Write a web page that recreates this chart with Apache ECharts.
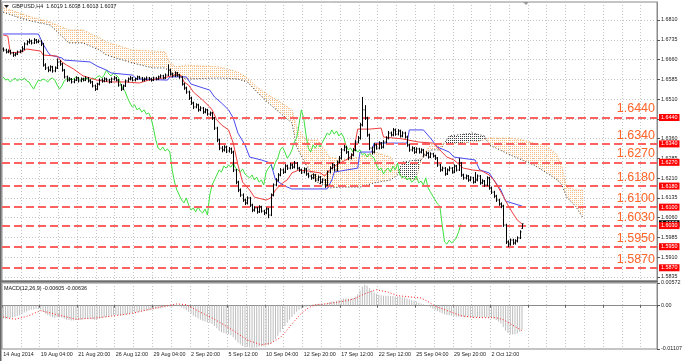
<!DOCTYPE html>
<html><head><meta charset="utf-8">
<script src="https://cdn.jsdelivr.net/npm/echarts@6/dist/echarts.min.js"></script>
<style>html,body{margin:0;padding:0;background:#fff;}#c{width:685px;height:361px;}</style>
</head><body><div id="c"></div>
<script>
// ---------- DATA ----------
const symbolTitle = 'GBPUSD,H4  1.6019 1.6038 1.6018 1.6037';
const macdTitle = 'MACD(12,26,9) -0.00605 -0.00636';
const barCount = 279;
const timeLabels = ['14 Aug 2014','19 Aug 04:00','21 Aug 20:00','26 Aug 12:00','29 Aug 04:00','2 Sep 20:00','5 Sep 12:00','10 Sep 04:00','12 Sep 20:00','17 Sep 12:00','22 Sep 12:00','25 Sep 04:00','29 Sep 20:00','2 Oct 12:00'];
const priceTicks = [1.5835,1.5910,1.5985,1.6060,1.6135,1.6210,1.6285,1.6360,1.6435,1.6510,1.6585,1.6660,1.6735,1.6810];
const priceLabels = [1.5835,1.5910,1.5985,1.6060,1.6135,1.6210,1.6285,1.6360,1.6510,1.6585,1.6660,1.6735,1.6810];
const levels = [1.6440,1.6340,1.6270,1.6180,1.6100,1.6030,1.5950,1.5870];
const bidPrice = 1.6037;
const macdTicks = [-0.01107, 0, 0.00572];
// OHLC bars: [open, close, low, high]
const bars = [
[1.6700,1.6696,1.6690,1.6706],[1.6696,1.6689,1.6683,1.6701],[1.6689,1.6692,1.6684,1.6698],[1.6692,1.6685,1.6679,1.6697],
[1.6685,1.6677,1.6670,1.6689],[1.6677,1.6681,1.6672,1.6686],[1.6681,1.6689,1.6677,1.6694],[1.6689,1.6692,1.6684,1.6698],
[1.6692,1.6700,1.6688,1.6711],[1.6700,1.6719,1.6696,1.6725],[1.6719,1.6727,1.6714,1.6733],[1.6727,1.6730,1.6720,1.6739],
[1.6730,1.6723,1.6717,1.6735],[1.6723,1.6734,1.6719,1.6741],[1.6734,1.6727,1.6721,1.6738],[1.6727,1.6730,1.6722,1.6736],
[1.6730,1.6719,1.6711,1.6734],[1.6719,1.6639,1.6633,1.6723],[1.6639,1.6628,1.6620,1.6646],[1.6628,1.6620,1.6612,1.6634],
[1.6620,1.6632,1.6615,1.6638],[1.6632,1.6617,1.6610,1.6636],[1.6617,1.6628,1.6612,1.6634],[1.6628,1.6651,1.6624,1.6664],
[1.6651,1.6643,1.6636,1.6658],[1.6643,1.6620,1.6614,1.6647],[1.6620,1.6594,1.6588,1.6624],[1.6594,1.6582,1.6575,1.6599],
[1.6582,1.6586,1.6577,1.6593],[1.6586,1.6575,1.6569,1.6590],[1.6575,1.6582,1.6570,1.6588],[1.6582,1.6590,1.6578,1.6596],
[1.6590,1.6579,1.6573,1.6594],[1.6579,1.6586,1.6574,1.6592],[1.6586,1.6582,1.6577,1.6591],[1.6582,1.6590,1.6578,1.6597],
[1.6590,1.6579,1.6573,1.6594],[1.6579,1.6575,1.6568,1.6585],[1.6575,1.6560,1.6554,1.6579],[1.6560,1.6548,1.6541,1.6565],
[1.6548,1.6567,1.6544,1.6572],[1.6567,1.6582,1.6562,1.6588],[1.6582,1.6579,1.6572,1.6589],[1.6579,1.6586,1.6574,1.6593],
[1.6586,1.6582,1.6576,1.6591],[1.6582,1.6575,1.6569,1.6587],[1.6575,1.6586,1.6571,1.6592],[1.6586,1.6590,1.6581,1.6597],
[1.6590,1.6582,1.6577,1.6594],[1.6582,1.6563,1.6557,1.6586],[1.6563,1.6548,1.6541,1.6567],[1.6548,1.6560,1.6544,1.6565],
[1.6560,1.6579,1.6556,1.6584],[1.6579,1.6586,1.6573,1.6592],[1.6586,1.6590,1.6581,1.6597],[1.6590,1.6582,1.6577,1.6594],
[1.6582,1.6586,1.6577,1.6591],[1.6586,1.6594,1.6582,1.6599],[1.6594,1.6590,1.6585,1.6598],[1.6590,1.6582,1.6576,1.6594],
[1.6582,1.6586,1.6577,1.6592],[1.6586,1.6590,1.6581,1.6596],[1.6590,1.6586,1.6580,1.6594],[1.6586,1.6582,1.6576,1.6591],
[1.6582,1.6590,1.6578,1.6595],[1.6590,1.6586,1.6581,1.6594],[1.6586,1.6594,1.6582,1.6599],[1.6594,1.6598,1.6589,1.6604],
[1.6598,1.6590,1.6585,1.6602],[1.6590,1.6601,1.6586,1.6607],[1.6601,1.6620,1.6597,1.6642],[1.6620,1.6605,1.6599,1.6625],
[1.6605,1.6598,1.6592,1.6610],[1.6598,1.6609,1.6594,1.6615],[1.6609,1.6601,1.6595,1.6613],[1.6601,1.6594,1.6587,1.6606],
[1.6594,1.6567,1.6561,1.6598],[1.6567,1.6552,1.6545,1.6572],[1.6552,1.6537,1.6530,1.6557],[1.6537,1.6514,1.6507,1.6542],
[1.6514,1.6495,1.6488,1.6519],[1.6495,1.6480,1.6472,1.6500],[1.6480,1.6488,1.6475,1.6494],[1.6488,1.6469,1.6462,1.6492],
[1.6469,1.6476,1.6464,1.6483],[1.6476,1.6461,1.6454,1.6480],[1.6461,1.6469,1.6456,1.6475],[1.6469,1.6453,1.6447,1.6473],
[1.6453,1.6457,1.6446,1.6463],[1.6457,1.6438,1.6431,1.6461],[1.6438,1.6400,1.6393,1.6442],[1.6400,1.6355,1.6347,1.6405],
[1.6355,1.6324,1.6316,1.6360],[1.6324,1.6317,1.6308,1.6332],[1.6317,1.6328,1.6311,1.6335],[1.6328,1.6313,1.6305,1.6333],
[1.6313,1.6321,1.6307,1.6328],[1.6321,1.6309,1.6302,1.6326],[1.6309,1.6241,1.6233,1.6314],[1.6241,1.6195,1.6187,1.6245],
[1.6195,1.6165,1.6157,1.6200],[1.6165,1.6146,1.6139,1.6171],[1.6146,1.6127,1.6120,1.6152],[1.6127,1.6116,1.6108,1.6132],
[1.6116,1.6135,1.6110,1.6141],[1.6135,1.6108,1.6101,1.6139],[1.6108,1.6089,1.6081,1.6113],[1.6089,1.6097,1.6083,1.6103],
[1.6097,1.6082,1.6075,1.6101],[1.6082,1.6101,1.6078,1.6107],[1.6101,1.6085,1.6079,1.6105],[1.6085,1.6078,1.6070,1.6090],
[1.6078,1.6093,1.6073,1.6099],[1.6093,1.6070,1.6058,1.6097],[1.6070,1.6146,1.6066,1.6152],[1.6146,1.6184,1.6141,1.6190],
[1.6184,1.6203,1.6179,1.6210],[1.6203,1.6222,1.6197,1.6229],[1.6222,1.6241,1.6217,1.6248],[1.6241,1.6233,1.6226,1.6247],
[1.6233,1.6256,1.6229,1.6263],[1.6256,1.6248,1.6241,1.6261],[1.6248,1.6260,1.6243,1.6268],[1.6260,1.6252,1.6245,1.6265],
[1.6252,1.6267,1.6247,1.6275],[1.6267,1.6248,1.6242,1.6271],[1.6248,1.6241,1.6234,1.6253],[1.6241,1.6233,1.6226,1.6246],
[1.6233,1.6245,1.6228,1.6251],[1.6245,1.6226,1.6219,1.6249],[1.6226,1.6218,1.6211,1.6231],[1.6218,1.6211,1.6204,1.6223],
[1.6211,1.6222,1.6206,1.6228],[1.6222,1.6203,1.6196,1.6226],[1.6203,1.6214,1.6198,1.6220],[1.6214,1.6195,1.6188,1.6218],
[1.6195,1.6203,1.6190,1.6209],[1.6203,1.6184,1.6173,1.6207],[1.6184,1.6233,1.6180,1.6239],[1.6233,1.6248,1.6228,1.6255],
[1.6248,1.6260,1.6243,1.6267],[1.6260,1.6241,1.6235,1.6264],[1.6241,1.6271,1.6237,1.6277],[1.6271,1.6286,1.6266,1.6294],
[1.6286,1.6317,1.6281,1.6324],[1.6317,1.6328,1.6312,1.6336],[1.6328,1.6309,1.6302,1.6332],[1.6309,1.6286,1.6279,1.6313],
[1.6286,1.6298,1.6281,1.6304],[1.6298,1.6317,1.6293,1.6324],[1.6317,1.6347,1.6312,1.6354],[1.6347,1.6362,1.6342,1.6370],
[1.6362,1.6412,1.6356,1.6420],[1.6412,1.6469,1.6406,1.6518],[1.6469,1.6438,1.6431,1.6487],[1.6438,1.6374,1.6367,1.6443],
[1.6374,1.6324,1.6316,1.6379],[1.6324,1.6309,1.6300,1.6330],[1.6309,1.6336,1.6304,1.6343],[1.6336,1.6324,1.6318,1.6341],
[1.6324,1.6343,1.6319,1.6350],[1.6343,1.6328,1.6321,1.6347],[1.6328,1.6347,1.6323,1.6354],[1.6347,1.6362,1.6342,1.6369],
[1.6362,1.6381,1.6357,1.6389],[1.6381,1.6374,1.6368,1.6387],[1.6374,1.6393,1.6369,1.6400],[1.6393,1.6377,1.6371,1.6398],
[1.6377,1.6389,1.6372,1.6396],[1.6389,1.6370,1.6364,1.6394],[1.6370,1.6381,1.6365,1.6388],[1.6381,1.6366,1.6360,1.6386],
[1.6366,1.6336,1.6329,1.6371],[1.6336,1.6317,1.6310,1.6341],[1.6317,1.6324,1.6311,1.6331],[1.6324,1.6309,1.6302,1.6328],
[1.6309,1.6321,1.6304,1.6327],[1.6321,1.6309,1.6303,1.6325],[1.6309,1.6317,1.6304,1.6323],[1.6317,1.6298,1.6291,1.6321],
[1.6298,1.6305,1.6293,1.6312],[1.6305,1.6290,1.6284,1.6309],[1.6290,1.6302,1.6286,1.6308],[1.6302,1.6294,1.6288,1.6306],
[1.6294,1.6286,1.6279,1.6299],[1.6286,1.6260,1.6253,1.6290],[1.6260,1.6241,1.6234,1.6264],[1.6241,1.6248,1.6236,1.6254],
[1.6248,1.6226,1.6219,1.6252],[1.6226,1.6241,1.6222,1.6247],[1.6241,1.6248,1.6236,1.6255],[1.6248,1.6233,1.6227,1.6252],
[1.6233,1.6256,1.6229,1.6262],[1.6256,1.6241,1.6235,1.6260],[1.6241,1.6267,1.6237,1.6286],[1.6267,1.6222,1.6215,1.6271],
[1.6222,1.6211,1.6204,1.6227],[1.6211,1.6218,1.6205,1.6224],[1.6218,1.6203,1.6196,1.6222],[1.6203,1.6211,1.6198,1.6217],
[1.6211,1.6195,1.6189,1.6215],[1.6195,1.6203,1.6191,1.6233],[1.6203,1.6218,1.6198,1.6224],[1.6218,1.6192,1.6185,1.6222],
[1.6192,1.6199,1.6187,1.6206],[1.6199,1.6184,1.6177,1.6203],[1.6184,1.6211,1.6179,1.6217],[1.6211,1.6173,1.6166,1.6215],
[1.6173,1.6157,1.6150,1.6178],[1.6157,1.6142,1.6135,1.6162],[1.6142,1.6127,1.6120,1.6147],[1.6127,1.6112,1.6105,1.6132],
[1.6112,1.6104,1.6096,1.6118],[1.6104,1.6032,1.6025,1.6109],[1.6032,1.5968,1.5960,1.6037],[1.5968,1.5960,1.5949,1.5974],
[1.5960,1.5975,1.5954,1.5981],[1.5975,1.5964,1.5957,1.5980],[1.5964,1.5972,1.5958,1.5978],[1.5972,1.5983,1.5966,1.5989],
[1.5983,1.6006,1.5979,1.6012],[1.6019,1.6037,1.6018,1.6038]
];
const chikouShift = 26;
const tenkan = [[0,1.6753],[2,1.6749],[3,1.6685],[8,1.6689],[10,1.6700],[16,1.6692],[17,1.6677],[23,1.6673],[25,1.6651],[27,1.6639],[30,1.6624],[34,1.6598],[37,1.6590],[40,1.6582],[45,1.6575],[52,1.6575],[58,1.6571],[62,1.6582],[68,1.6590],[72,1.6598],[74,1.6605],[76,1.6598],[77,1.6575],[79,1.6563],[81,1.6537],[85,1.6506],[88,1.6480],[89,1.6469],[91,1.6431],[93,1.6412],[96,1.6393],[98,1.6343],[100,1.6260],[102,1.6195],[105,1.6165],[107,1.6138],[112,1.6127],[114,1.6135],[116,1.6165],[119,1.6192],[121,1.6203],[123,1.6230],[126,1.6241],[130,1.6237],[135,1.6230],[137,1.6218],[139,1.6241],[142,1.6260],[146,1.6279],[149,1.6298],[151,1.6396],[156,1.6396],[161,1.6400],[162,1.6366],[170,1.6359],[177,1.6347],[183,1.6343],[186,1.6317],[189,1.6290],[192,1.6279],[196,1.6248],[200,1.6241],[204,1.6237],[207,1.6222],[209,1.6203],[211,1.6173],[213,1.6142],[215,1.6108],[217,1.6078],[219,1.6051],[221,1.6036]];
const kijun = [[0,1.6757],[15,1.6757],[17,1.6719],[19,1.6689],[20,1.6677],[25,1.6666],[26,1.6658],[37,1.6651],[40,1.6635],[44,1.6620],[46,1.6609],[55,1.6601],[57,1.6586],[70,1.6582],[71,1.6594],[78,1.6594],[80,1.6567],[88,1.6544],[90,1.6518],[93,1.6495],[96,1.6469],[98,1.6438],[100,1.6381],[103,1.6336],[105,1.6290],[110,1.6279],[114,1.6267],[116,1.6203],[120,1.6180],[123,1.6169],[138,1.6169],[140,1.6203],[141,1.6233],[151,1.6248],[152,1.6309],[157,1.6309],[158,1.6343],[172,1.6343],[173,1.6393],[179,1.6393],[182,1.6362],[185,1.6328],[190,1.6309],[192,1.6290],[201,1.6279],[203,1.6241],[207,1.6230],[209,1.6203],[212,1.6165],[214,1.6123],[221,1.6104]];
const cloudIdx = [0,7,12,20,28,34,41,44,55,64,69,71,74,78,92,100,104,108,113,118,123,125,129,134,139,145,152,158,165,168,170,176,178,182,186,190,200,205,207,210,216,221,226,231,236,238,240,244,247];
const spanA = [1.6840,1.6818,1.6806,1.6791,1.6723,1.6723,1.6696,1.6677,1.6647,1.6628,1.6628,1.6613,1.6598,1.6586,1.6590,1.6586,1.6575,1.6537,1.6495,1.6457,1.6419,1.6328,1.6260,1.6192,1.6173,1.6176,1.6176,1.6192,1.6203,1.6222,1.6271,1.6279,1.6279,1.6317,1.6317,1.6370,1.6381,1.6370,1.6336,1.6324,1.6298,1.6279,1.6260,1.6233,1.6203,1.6184,1.6138,1.6101,1.6059];
const spanB = [1.6856,1.6837,1.6821,1.6802,1.6772,1.6772,1.6742,1.6727,1.6696,1.6692,1.6689,1.6647,1.6632,1.6639,1.6632,1.6613,1.6590,1.6556,1.6525,1.6499,1.6469,1.6404,1.6355,1.6355,1.6290,1.6279,1.6290,1.6309,1.6290,1.6241,1.6211,1.6203,1.6286,1.6336,1.6343,1.6340,1.6347,1.6355,1.6362,1.6362,1.6362,1.6355,1.6343,1.6336,1.6298,1.6252,1.6176,1.6165,1.6165];
const macd = [
-0.0033,-0.0034,-0.0033,-0.0031,-0.0030,-0.0029,-0.0027,-0.0025,-0.0022,
-0.0018,-0.0015,-0.0013,-0.0011,-0.0010,-0.0009,-0.0009,-0.0010,
-0.0016,-0.0021,-0.0025,-0.0028,-0.0030,-0.0031,-0.0030,-0.0030,-0.0031,
-0.0034,-0.0036,-0.0037,-0.0038,-0.0038,-0.0037,-0.0037,
-0.0036,-0.0035,-0.0034,-0.0034,-0.0034,-0.0035,-0.0036,-0.0035,
-0.0033,-0.0032,-0.0030,-0.0029,-0.0028,-0.0026,-0.0025,-0.0024,
-0.0025,-0.0026,-0.0025,
-0.0023,-0.0022,-0.0020,-0.0019,-0.0018,-0.0017,-0.0016,-0.0015,-0.0014,-0.0013,-0.0012,-0.0011,-0.0010,-0.0009,
-0.0008,-0.0007,-0.0006,-0.0005,-0.0003,-0.0003,-0.0003,-0.0002,-0.0002,-0.0002,
-0.0005,-0.0008,-0.0012,-0.0016,-0.0021,-0.0026,-0.0029,-0.0033,
-0.0036,-0.0039,-0.0041,-0.0043,-0.0044,-0.0047,
-0.0052,-0.0058,-0.0064,-0.0068,-0.0070,-0.0072,-0.0073,-0.0075,
-0.0081,-0.0088,-0.0094,-0.0099,-0.0103,-0.0106,-0.0105,
-0.0106,-0.0108,-0.0107,-0.0107,-0.0105,-0.0104,-0.0103,-0.0101,-0.0101,
-0.0098,-0.0092,-0.0085,-0.0077,-0.0068,-0.0060,-0.0052,-0.0044,
-0.0036,-0.0029,-0.0022,-0.0016,-0.0011,-0.0008,-0.0005,-0.0003,-0.0001,
0.0002,0.0003,0.0003,0.0004,0.0004,0.0004,0.0003,
0.0006,0.0008,0.0010,0.0010,0.0012,0.0014,
0.0015,0.0018,0.0018,0.0017,0.0017,0.0019,
0.0022,0.0028,0.0038,0.0048,0.0053,
0.0050,0.0044,0.0038,0.0033,0.0030,
0.0027,0.0026,0.0025,0.0025,0.0025,0.0024,0.0024,0.0023,0.0023,0.0022,0.0021,0.0020,0.0018,0.0016,0.0014,0.0012,0.0010,
0.0007,0.0005,0.0003,0.0001,-0.0002,-0.0005,-0.0008,
-0.0011,-0.0014,-0.0017,-0.0020,-0.0022,-0.0024,-0.0025,-0.0026,
-0.0027,-0.0028,-0.0028,-0.0029,-0.0029,-0.0030,-0.0030,-0.0030,-0.0031,-0.0030,-0.0030,-0.0031,-0.0031,-0.0030,-0.0030,-0.0031,-0.0032,-0.0034,-0.0037,-0.0041,-0.0046,
-0.0055,-0.0064,-0.0070,-0.0073,-0.0074,-0.0073,-0.0071,-0.0067,-0.0061
];
const signal = [[0,-0.0029],[5,-0.0035],[10,-0.0028],[16,-0.0013],[22,-0.0022],[31,-0.0035],[41,-0.0031],[55,-0.0020],[65,-0.0006],[74,0.0004],[78,0.0002],[84,-0.0017],[90,-0.0035],[97,-0.0060],[104,-0.0088],[110,-0.0100],[114,-0.0096],[118,-0.0082],[121,-0.0062],[124,-0.0040],[127,-0.0020],[130,-0.0006],[133,0.0002],[137,0.0004],[142,0.0008],[146,0.0012],[150,0.0018],[154,0.0030],[159,0.0040],[164,0.0034],[168,0.0025],[173,0.0022],[178,0.0019],[181,0.0010],[184,-0.0002],[190,-0.0015],[195,-0.0026],[200,-0.0030],[205,-0.0031],[210,-0.0031],[213,-0.0036],[217,-0.0050],[221,-0.0064]];

// ---------- CHART ----------
const FONT = "'Liberation Sans', Arial, sans-serif";
const NARROW = "'Liberation Sans Narrow', 'Arial Narrow', 'Liberation Sans', Arial, sans-serif";
const cats = Array.from({length: barCount}, (_, i) => String(i));
const closes = bars.map(b => b[1]);
const chikou = closes.slice(chikouShift).map((v, i) => [i, v]);

function dotPattern(color, w, h) {
  const cv = document.createElement('canvas');
  cv.width = w; cv.height = h;
  const ctx = cv.getContext('2d');
  ctx.fillStyle = color; ctx.fillRect(0, 0, 1, 1);
  return {type: 'pattern', image: cv, repeat: 'repeat'};
}
const orangePat = dotPattern('#f8be84', 2, 2);
const darkPat = dotPattern('#3c3c3c', 2, 2);

const cloudSegs = cloudIdx.slice(0, -1).map((x, j) => [x, spanA[j], spanB[j], cloudIdx[j+1], spanA[j+1], spanB[j+1]]);

function renderCloud(params, api) {
  const x1 = api.value(0), a1 = api.value(1), b1 = api.value(2);
  const x2 = api.value(3), a2 = api.value(4), b2 = api.value(5);
  const P = (x, y) => api.coord([x, y]);
  const d1 = a1 - b1, d2 = a2 - b2;
  const poly = (pts, aTop) => ({type: 'polygon', shape: {points: pts}, style: {fill: aTop ? darkPat : orangePat}});
  const children = [];
  if (d1 * d2 < 0) {
    const t = d1 / (d1 - d2);
    const xc = x1 + t * (x2 - x1), yc = a1 + t * (a2 - a1);
    children.push(poly([P(x1, a1), P(xc, yc), P(x1, b1)], d1 > 0));
    children.push(poly([P(xc, yc), P(x2, a2), P(x2, b2)], d2 > 0));
  } else {
    children.push(poly([P(x1, a1), P(x2, a2), P(x2, b2), P(x1, b1)], (d1 + d2) > 0));
  }
  return {type: 'group', children};
}

function renderBar(params, api) {
  const i = api.value(0);
  const o = api.coord([i, api.value(1)]), c = api.coord([i, api.value(2)]);
  const l = api.coord([i, api.value(3)]), h = api.coord([i, api.value(4)]);
  const cx = Math.round(o[0]) + 0.5;
  const st = {stroke: '#000', lineWidth: 1};
  return {type: 'group', children: [
    {type: 'line', shape: {x1: cx, y1: h[1], x2: cx, y2: l[1]}, style: st},
    {type: 'line', shape: {x1: cx - 1, y1: o[1], x2: cx, y2: o[1]}, style: st},
    {type: 'line', shape: {x1: cx, y1: c[1], x2: cx + 1, y2: c[1]}, style: st}
  ]};
}

const gridLine = {show: true, lineStyle: {color: '#c4c4c4', type: [1, 2], width: 1}};
const chart = echarts.init(document.getElementById('c'), null, {renderer: 'canvas'});
chart.setOption({
  animation: false,
  backgroundColor: '#fff',
  textStyle: {fontFamily: FONT},
  grid: [
    {left: 2, top: 2, width: 655, height: 279, show: true, borderColor: '#8a8a8a', borderWidth: 1},
    {left: 2, top: 283, width: 655, height: 66, show: true, borderColor: '#8a8a8a', borderWidth: 1}
  ],
  xAxis: [
    {type: 'category', gridIndex: 0, data: cats, boundaryGap: true,
     axisLine: {show: false}, axisTick: {show: false}, axisLabel: {show: false},
     splitLine: Object.assign({interval: (i) => i % 8 === 0}, gridLine)},
    {type: 'category', gridIndex: 1, data: cats, boundaryGap: true,
     axisLine: {show: true, lineStyle: {color: '#8a8a8a'}},
     axisTick: {show: true, length: 2, interval: (i) => i % 16 === 0, lineStyle: {color: '#555'}},
     axisLabel: {show: true, interval: (i) => i % 16 === 0 && i / 16 < timeLabels.length,
       formatter: (v, i) => timeLabels[Math.round(Number(v) / 16)] || '',
       align: 'left', fontSize: 5.4, color: '#222', margin: 3, fontFamily: FONT},
     splitLine: Object.assign({interval: (i) => i % 8 === 0}, gridLine)}
  ],
  yAxis: [
    {type: 'value', gridIndex: 0, position: 'right', min: 1.58198, max: 1.68783,
     axisLine: {show: true, lineStyle: {color: '#8a8a8a'}},
     axisTick: {show: true, customValues: priceTicks, length: 3, lineStyle: {color: '#555'}},
     axisLabel: {customValues: priceLabels, formatter: (v) => v.toFixed(4), fontSize: 5.4, color: '#222', margin: 4, fontFamily: FONT},
     splitLine: gridLine},
    {type: 'value', gridIndex: 1, position: 'right', min: -0.01107, max: 0.00572,
     axisLine: {show: true, lineStyle: {color: '#8a8a8a'}},
     axisTick: {show: true, customValues: macdTicks, length: 3, lineStyle: {color: '#555'}},
     axisLabel: {customValues: macdTicks, formatter: (v) => v === 0 ? '0.00' : v.toFixed(5), fontSize: 5.4, color: '#222', margin: 4, fontFamily: FONT},
     splitLine: gridLine}
  ],
  series: [
    {name: 'cloud', type: 'custom', xAxisIndex: 0, yAxisIndex: 0, data: cloudSegs, renderItem: renderCloud, silent: true, z: 1, clip: true},
    {name: 'spanA', type: 'line', xAxisIndex: 0, yAxisIndex: 0, data: cloudIdx.map((x, j) => [x, spanA[j]]), showSymbol: false, silent: true, z: 2,
     lineStyle: {color: '#333', width: 1, type: [1, 2]}},
    {name: 'spanB', type: 'line', xAxisIndex: 0, yAxisIndex: 0, data: cloudIdx.map((x, j) => [x, spanB[j]]), showSymbol: false, silent: true, z: 2,
     lineStyle: {color: '#f0a050', width: 1, type: [1, 2]}},
    {name: 'chikou', type: 'line', xAxisIndex: 0, yAxisIndex: 0, data: chikou, showSymbol: false, silent: true, z: 3,
     lineStyle: {color: '#3ee03e', width: 1},
     markLine: {silent: true, symbol: 'none', animation: false, precision: 4,
       lineStyle: {color: 'rgba(0,0,0,0)', width: 0},
       label: {show: true, position: 'end', distance: 2, formatter: () => bidPrice.toFixed(4), backgroundColor: '#000', color: '#fff', fontSize: 5.4, padding: [1, 2, 1, 2], fontFamily: FONT},
       data: [{yAxis: bidPrice}]}},
    {name: 'kijun', type: 'line', xAxisIndex: 0, yAxisIndex: 0, data: kijun, showSymbol: false, silent: true, z: 4,
     lineStyle: {color: '#4a4af0', width: 1},
     markLine: {silent: true, symbol: 'none', animation: false, precision: 4,
       lineStyle: {color: '#ff6060', width: 1.8, type: [8, 4]},
       label: {show: true, position: 'insideEndTop', distance: 2, formatter: (p) => Number(p.value).toFixed(4), color: '#ff6428', fontSize: 12.5, fontFamily: NARROW},
       data: levels.map(v => ({yAxis: v}))}},
    {name: 'tenkan', type: 'line', xAxisIndex: 0, yAxisIndex: 0, data: tenkan, showSymbol: false, silent: true, z: 5,
     lineStyle: {color: '#f03c3c', width: 1},
     markLine: {silent: true, symbol: 'none', animation: false, precision: 4,
       lineStyle: {color: 'rgba(0,0,0,0)', width: 0},
       label: {show: true, position: 'end', distance: 2, formatter: (p) => Number(p.value).toFixed(4), backgroundColor: '#ff0000', color: '#fff', fontSize: 5.4, padding: [1, 2, 1, 2], fontFamily: FONT},
       data: levels.map(v => ({yAxis: v}))}},
    {name: 'price', type: 'custom', xAxisIndex: 0, yAxisIndex: 0, data: bars.map((b, i) => [i].concat(b)), renderItem: renderBar, silent: true, z: 6, clip: true},
    {name: 'macd', type: 'bar', xAxisIndex: 1, yAxisIndex: 1, data: macd, barWidth: 1, silent: true, itemStyle: {color: '#bdbdbd'}},
    {name: 'signal', type: 'line', xAxisIndex: 1, yAxisIndex: 1, data: signal, showSymbol: false, silent: true,
     lineStyle: {color: '#ff2020', width: 1, type: [1, 2]}}
  ],
  graphic: [
    {type: 'rect', shape: {x: 0, y: 0, width: 1.5, height: 361}, style: {fill: '#666'}, silent: true},
    {type: 'rect', shape: {x: 0, y: 280.5, width: 658, height: 2}, style: {fill: '#6d6d6d'}, silent: true},
    {type: 'polygon', shape: {points: [[4, 5], [9, 5], [6.5, 8]]}, style: {fill: '#222'}, silent: true},
    {type: 'polygon', shape: {points: [[523, 2], [529, 2], [526, 5]]}, style: {fill: '#999'}, silent: true},
    {type: 'text', left: 12, top: 4, style: {text: symbolTitle, fontSize: 5.4, fill: '#111', fontFamily: FONT}, silent: true},
    {type: 'text', left: 4, top: 286, style: {text: macdTitle, fontSize: 5.4, fill: '#111', fontFamily: FONT}, silent: true}
  ]
});
</script>
</body></html>
